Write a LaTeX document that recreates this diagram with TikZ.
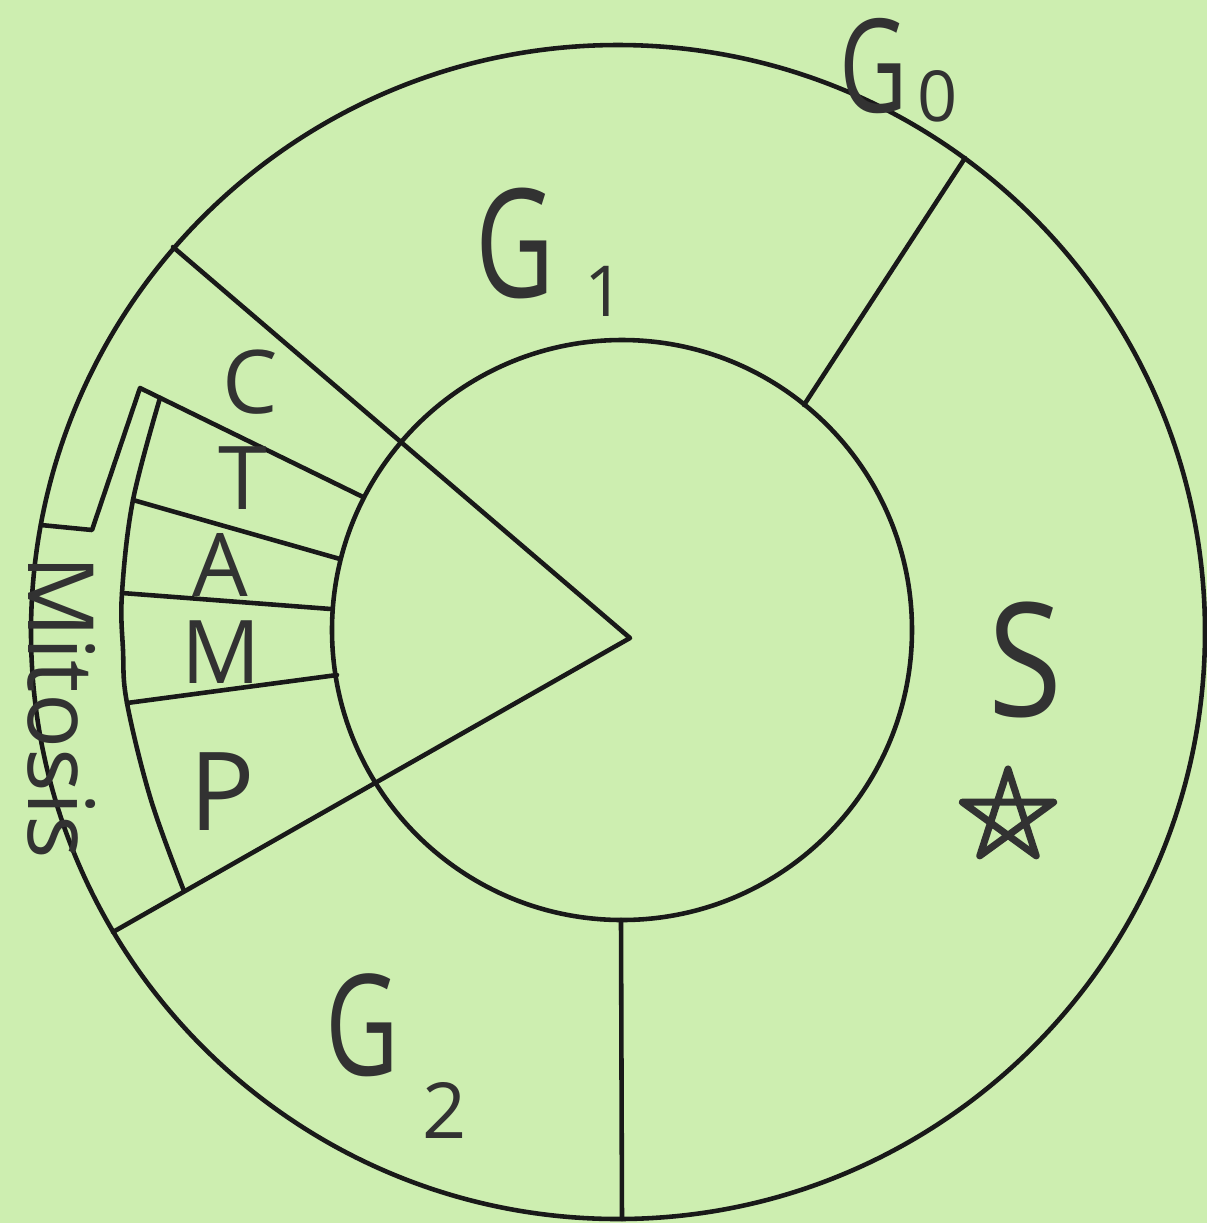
\documentclass[tikz,border=0pt]{standalone}
\usepackage{fontspec}
\setmainfont{Open Sans}
\usetikzlibrary{calc}
\definecolor{paper}{RGB}{205,238,176}
\definecolor{ink}{RGB}{25,25,25}
\definecolor{pencil}{RGB}{50,50,50}
\begin{document}
\begin{tikzpicture}[x=0.01cm,y=-0.01cm,line join=round,line cap=round,
  edge/.style={draw=ink,line width=1.3pt},
  lab/.style={inner sep=0pt,text=pencil},
  gl/.style={lab,xscale=0.72},
  mid/.style={lab,font=\fontsize{25}{27}\selectfont},
  small/.style={lab,font=\fontsize{20}{22}\selectfont}]
\fill[paper] (0,0) rectangle (1207,1223);
\useasboundingbox (0,0) rectangle (1207,1223);
% centres
\coordinate (O) at (618,632);
\coordinate (I) at (622,630);
\coordinate (apex) at (630,638);
% circles
\draw[edge] (O) circle[radius=587];
\draw[edge] (I) circle[radius=290];
% phase boundaries
\coordinate (wUp) at (173,247);
\coordinate (wLo) at (113,932);
\draw[edge] (wUp) -- (apex) -- (wLo);
\coordinate (g0out) at (965,158);
\coordinate (g0in) at (804,405);
\draw[edge] (g0out) -- (g0in);
\coordinate (g2in) at (621,920);
\coordinate (g2out) at (622,1219);
\draw[edge] (g2in) -- (g2out);
% mitosis bracket and sub-wedge
\coordinate (b0) at (41,525);
\coordinate (b1) at (92,530);
\coordinate (b2) at (140,388);
\coordinate (c1) at (363,497);
\draw[edge] (b0) -- (b1) -- (b2) -- (c1);
\coordinate (a1) at (133,500);
\coordinate (a2) at (122,593);
\coordinate (a3) at (127,703);
\draw[edge] plot[smooth,tension=0.6] coordinates {(160,398) (133,500) (122,593) (123,650) (127,703) (151,800) (184,891)};
\coordinate (i1) at (340,559);
\coordinate (i2) at (331,609);
\coordinate (i3) at (337,675);
\draw[edge] (a1) -- (i1);
\draw[edge] (a2) -- (i2);
\draw[edge] (a3) -- (i3);
% labels
\node[gl,font=\fontsize{43}{45}\selectfont] (G1) at (515,243) {G};
\node[small] (G1s) at (605,291) {1};
\node[gl,font=\fontsize{37}{40}\selectfont] (G0) at (874,66) {G};
\node[small] (G0s) at (938,96) {0};
\node[gl,font=\fontsize{40}{42}\selectfont] (G2) at (362,1025) {G};
\node[lab,font=\fontsize{22}{24}\selectfont] (G2s) at (445,1110) {2};
\node[lab,xscale=0.85,font=\fontsize{45}{47}\selectfont] (S) at (1025,660) {S};
\node[mid] (C) at (250,382) {C};
\node[mid] (T) at (243,478) {T};
\node[mid] (A) at (220,565) {A};
\node[mid] (M) at (221,652) {M};
\node[lab,font=\fontsize{31}{33}\selectfont] (P) at (222,792) {P};
\node[lab,font=\fontsize{26}{28}\selectfont,rotate=-90] (mit) at (62,707) {Mitosis};
% star
\coordinate (star) at (1008,817);
\draw[line width=2pt,draw=pencil] ($(star)+(-90:48)$) -- ($(star)+(54:48)$) -- ($(star)+(198:48)$) -- ($(star)+(-18:48)$) -- ($(star)+(126:48)$) -- cycle;
\end{tikzpicture}
\end{document}
